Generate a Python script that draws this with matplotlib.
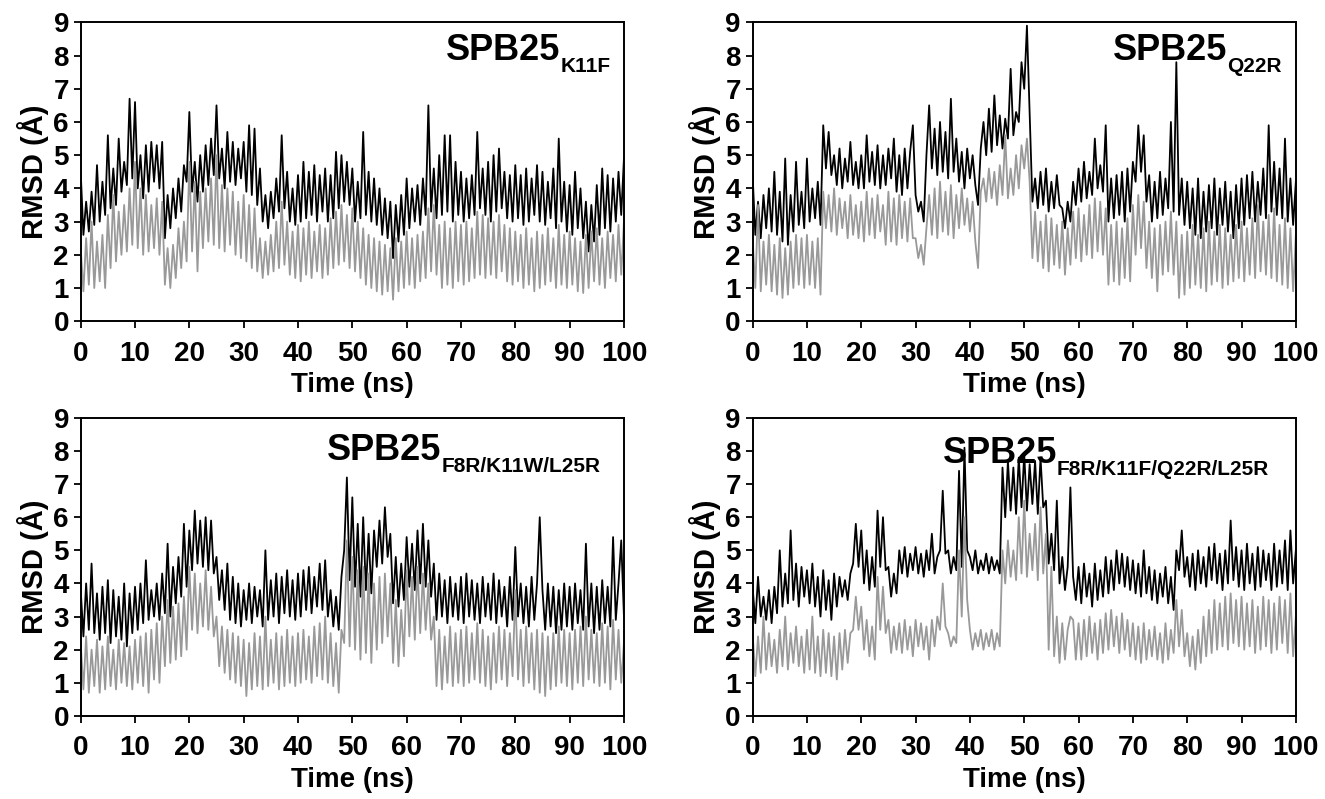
import numpy as np
import matplotlib.pyplot as plt

plt.rcParams['font.family'] = ['Liberation Sans', 'DejaVu Sans']
plt.rcParams['font.weight'] = 'bold'

# RMSD traces, one value every 0.5 ns from 0 to 100 ns
dt = 0.5

k11f_black = [
    4.5, 2.6, 3.6, 2.7, 3.9, 2.9, 4.7, 3.0, 4.2, 3.2, 5.6, 3.4, 4.6, 3.5, 5.5, 3.9, 4.8, 4.1, 6.7, 4.3,
    6.6, 4.0, 5.0, 3.7, 5.3, 3.9, 5.4, 4.2, 5.3, 4.0, 5.4, 2.5, 3.8, 2.8, 4.0, 3.1, 4.3, 3.3, 4.7, 4.2,
    6.3, 3.9, 4.8, 3.6, 5.0, 3.9, 5.3, 4.1, 5.5, 4.4, 6.5, 4.3, 5.2, 4.0, 5.7, 4.2, 5.4, 4.1, 5.2, 4.3,
    5.4, 3.9, 5.9, 3.8, 5.8, 3.5, 4.6, 3.0, 3.8, 2.8, 3.9, 3.1, 4.3, 3.3, 5.6, 3.4, 4.5, 3.0, 4.0, 2.9,
    4.4, 3.0, 4.8, 3.1, 4.5, 3.2, 4.7, 3.0, 4.4, 3.3, 4.6, 3.0, 4.4, 3.1, 5.1, 3.4, 5.0, 3.6, 4.8, 3.5,
    4.6, 3.0, 4.2, 3.1, 5.7, 3.2, 4.5, 3.0, 4.3, 2.9, 4.0, 2.6, 3.7, 2.5, 3.6, 1.9, 3.5, 2.4, 3.8, 2.6,
    4.3, 2.8, 4.0, 3.0, 4.1, 2.9, 4.3, 3.2, 6.5, 3.3, 4.6, 3.1, 5.0, 3.2, 5.6, 3.3, 5.6, 3.0, 4.8, 3.2,
    4.5, 3.0, 4.3, 3.1, 4.4, 3.2, 5.7, 3.4, 4.6, 3.2, 4.8, 3.0, 5.0, 3.3, 5.2, 3.4, 4.5, 3.1, 4.4, 3.0,
    4.7, 3.1, 4.4, 2.9, 4.6, 3.0, 4.3, 3.2, 4.7, 3.0, 4.5, 2.9, 4.2, 3.1, 4.6, 2.8, 5.5, 3.0, 4.2, 2.7,
    4.1, 2.6, 4.5, 2.8, 4.0, 2.5, 3.6, 2.1, 3.5, 2.4, 4.1, 2.6, 4.6, 2.8, 4.4, 2.7, 4.3, 3.0, 4.5, 3.2,
    4.9]
k11f_gray = [
    2.2, 0.9, 2.5, 1.1, 3.0, 1.0, 2.4, 1.2, 2.6, 1.0, 3.2, 1.6, 3.8, 1.8, 3.3, 2.0, 3.5, 2.1, 4.0, 2.3,
    4.8, 2.2, 4.0, 2.0, 3.8, 2.1, 3.5, 2.2, 3.7, 2.0, 3.6, 1.1, 2.2, 1.0, 2.3, 1.3, 2.8, 1.6, 3.0, 1.8,
    4.8, 2.1, 4.2, 1.5, 3.9, 2.2, 4.0, 2.4, 4.3, 2.3, 5.0, 2.2, 4.1, 2.1, 4.0, 2.3, 3.9, 2.0, 3.6, 1.9,
    3.8, 1.8, 3.5, 1.6, 3.4, 1.5, 2.5, 1.3, 2.4, 1.4, 2.6, 1.5, 3.0, 1.6, 3.6, 1.7, 3.0, 1.4, 2.7, 1.3,
    2.9, 1.2, 2.8, 1.4, 3.0, 1.3, 2.7, 1.5, 2.9, 1.3, 2.8, 1.4, 3.1, 1.6, 3.3, 1.7, 3.5, 1.8, 3.2, 1.6,
    3.4, 1.5, 3.0, 1.3, 2.8, 1.1, 2.6, 1.0, 2.5, 0.9, 2.4, 0.8, 2.3, 0.9, 2.2, 0.65, 2.5, 0.9, 2.4, 1.0,
    2.7, 1.1, 2.5, 1.0, 2.6, 1.2, 2.7, 1.3, 3.4, 1.5, 3.5, 1.4, 2.9, 1.0, 3.0, 1.1, 2.8, 1.0, 3.0, 1.2,
    2.9, 1.1, 3.0, 1.2, 2.8, 1.3, 3.3, 1.4, 3.2, 1.3, 3.1, 1.4, 3.0, 1.3, 3.2, 1.5, 2.9, 1.2, 2.8, 1.1,
    2.7, 1.2, 2.6, 1.0, 2.8, 1.1, 2.5, 0.9, 2.7, 1.0, 2.6, 1.1, 2.8, 1.2, 2.5, 1.0, 2.9, 1.1, 2.6, 1.0,
    2.7, 1.1, 2.5, 0.9, 2.4, 0.85, 2.6, 1.0, 2.7, 1.2, 2.8, 1.1, 2.5, 1.0, 2.7, 1.3, 2.6, 1.2, 2.9, 1.4,
    3.0]

q22r_black = [
    4.4, 2.6, 3.6, 2.5, 3.8, 2.8, 4.0, 2.7, 4.5, 2.6, 3.9, 2.4, 4.9, 2.3, 3.8, 2.7, 4.8, 2.9, 3.9, 2.8,
    4.9, 3.0, 4.0, 3.1, 4.2, 2.9, 5.9, 4.6, 5.7, 4.4, 5.0, 4.1, 5.2, 4.0, 4.9, 4.2, 5.4, 4.1, 4.8, 4.0,
    5.0, 4.0, 5.6, 4.2, 5.1, 4.1, 5.3, 4.0, 5.0, 4.1, 5.2, 4.3, 5.5, 3.9, 5.0, 3.8, 5.2, 4.0, 5.1, 5.9,
    3.8, 3.3, 3.6, 3.0, 5.0, 6.5, 4.6, 5.8, 4.4, 6.0, 4.5, 5.7, 4.3, 6.7, 4.5, 5.5, 4.2, 5.1, 4.0, 5.2,
    4.3, 5.0, 4.1, 3.5, 5.2, 6.0, 5.0, 6.4, 5.1, 6.8, 5.3, 6.2, 5.2, 6.1, 5.5, 7.6, 5.6, 6.3, 6.0, 7.8,
    7.0, 8.9, 6.2, 3.6, 4.3, 3.4, 4.5, 3.5, 4.6, 3.3, 4.2, 3.4, 4.4, 3.5, 3.4, 2.8, 3.6, 3.0, 4.2, 3.5,
    4.6, 3.6, 4.8, 3.7, 4.5, 3.8, 5.5, 4.0, 4.7, 3.9, 5.9, 3.0, 4.3, 3.1, 4.4, 3.2, 4.5, 3.0, 4.6, 3.3,
    4.8, 4.2, 5.9, 4.5, 5.6, 3.6, 4.4, 3.0, 4.2, 3.1, 4.5, 3.2, 4.3, 3.4, 6.0, 3.3, 7.8, 3.2, 4.3, 2.9,
    4.2, 2.8, 4.0, 2.6, 4.3, 2.5, 3.9, 2.7, 4.1, 2.8, 4.3, 2.6, 4.0, 2.9, 4.2, 2.7, 3.9, 2.5, 4.1, 2.8,
    4.3, 2.9, 4.4, 3.1, 4.5, 3.0, 4.2, 3.2, 4.6, 3.1, 5.9, 3.3, 4.8, 3.2, 4.6, 3.1, 5.5, 3.0, 4.3, 2.9,
    4.2]
q22r_gray = [
    2.5, 1.0, 3.5, 0.9, 2.4, 1.1, 2.6, 0.9, 2.3, 0.8, 2.5, 0.7, 2.2, 0.8, 2.4, 1.0, 2.6, 1.1, 2.5, 1.0,
    2.6, 1.1, 2.4, 1.0, 2.5, 0.8, 3.9, 2.8, 3.8, 2.7, 4.0, 2.6, 3.7, 2.8, 3.6, 2.5, 3.8, 2.6, 3.5, 2.5,
    3.6, 2.4, 3.9, 2.6, 3.7, 2.5, 3.8, 2.7, 3.5, 2.3, 3.9, 2.4, 3.7, 2.3, 3.8, 2.5, 3.6, 2.4, 3.7, 2.5,
    2.5, 1.9, 2.3, 1.7, 2.8, 3.8, 2.6, 4.0, 2.5, 4.2, 2.7, 3.9, 2.6, 4.1, 2.5, 3.8, 2.8, 4.0, 2.9, 3.7,
    2.7, 3.6, 2.4, 1.6, 3.9, 4.3, 3.6, 4.6, 3.7, 4.5, 3.5, 4.7, 3.8, 5.6, 3.7, 4.6, 3.8, 5.0, 4.0, 5.3,
    4.6, 5.5, 4.2, 1.9, 3.3, 1.8, 3.0, 1.6, 3.2, 1.5, 3.1, 1.7, 2.9, 1.6, 3.0, 1.4, 2.8, 1.7, 3.3, 1.9,
    3.4, 1.8, 3.2, 2.0, 3.5, 1.9, 3.7, 2.1, 3.6, 2.0, 3.4, 1.1, 2.9, 1.2, 3.0, 1.1, 2.8, 1.3, 3.1, 1.2,
    3.5, 2.0, 3.8, 2.2, 3.6, 1.6, 3.0, 1.3, 2.8, 0.9, 2.9, 1.4, 3.0, 1.5, 3.3, 1.4, 3.0, 0.7, 2.6, 0.8,
    2.7, 1.0, 2.9, 1.1, 2.6, 1.0, 2.8, 0.9, 3.0, 1.1, 2.7, 1.2, 2.9, 1.0, 2.8, 1.1, 2.6, 1.2, 2.9, 1.3,
    3.0, 1.2, 2.8, 1.4, 3.1, 1.3, 3.5, 1.5, 3.0, 1.4, 3.2, 1.3, 3.4, 1.2, 2.9, 1.1, 3.1, 1.0, 2.8, 0.9,
    2.6]

f8r_k11w_l25r_black = [
    3.8, 2.4, 4.0, 2.6, 4.6, 2.5, 3.7, 2.3, 3.9, 2.5, 4.1, 2.2, 3.8, 2.4, 3.6, 2.3, 4.0, 2.1, 3.7, 2.5,
    3.9, 2.6, 4.0, 2.8, 4.7, 2.9, 3.8, 3.0, 4.0, 2.9, 4.3, 3.1, 5.2, 3.0, 4.5, 3.4, 4.8, 3.6, 5.8, 3.9,
    5.6, 4.4, 6.2, 4.6, 5.9, 4.5, 6.0, 4.4, 5.9, 4.3, 4.8, 3.5, 4.4, 3.2, 4.6, 2.9, 4.2, 2.8, 4.0, 2.7,
    3.8, 2.9, 4.0, 2.8, 3.9, 3.0, 3.8, 2.7, 5.0, 2.9, 4.1, 3.0, 4.3, 2.8, 4.2, 3.1, 4.4, 3.0, 4.1, 2.9,
    4.3, 3.0, 4.4, 3.2, 4.5, 3.1, 4.2, 3.3, 4.6, 3.2, 4.7, 3.0, 3.8, 2.7, 3.6, 2.6, 4.2, 5.0, 7.2, 4.1,
    6.6, 3.9, 5.8, 3.6, 6.0, 3.8, 5.5, 3.7, 5.6, 4.5, 5.9, 4.6, 6.3, 4.8, 5.5, 3.4, 4.8, 3.3, 4.6, 3.5,
    5.4, 3.9, 5.2, 3.8, 5.6, 4.0, 5.8, 3.9, 5.3, 3.6, 4.6, 2.9, 4.3, 3.0, 4.1, 2.8, 4.2, 3.0, 4.0, 2.9,
    4.2, 2.8, 4.3, 3.0, 4.1, 2.9, 4.0, 2.8, 4.2, 3.0, 4.0, 2.9, 4.3, 2.8, 4.1, 3.0, 3.9, 2.7, 4.2, 2.9,
    5.1, 3.0, 4.0, 2.8, 3.9, 2.7, 4.2, 2.9, 4.0, 6.0, 3.8, 2.6, 4.0, 2.7, 3.9, 2.5, 3.8, 2.6, 4.0, 2.7,
    3.9, 2.6, 4.0, 2.8, 3.8, 2.6, 5.2, 2.7, 4.0, 2.5, 3.9, 2.6, 4.1, 2.8, 3.9, 2.7, 5.4, 2.9, 4.0, 5.3,
    3.0]
f8r_k11w_l25r_gray = [
    2.2, 0.8, 2.4, 0.7, 2.0, 0.9, 2.3, 0.7, 2.1, 0.8, 2.4, 0.9, 2.0, 0.8, 2.3, 1.0, 2.2, 0.9, 2.1, 0.8,
    2.3, 1.0, 2.4, 0.9, 2.5, 0.7, 2.6, 1.1, 2.8, 1.0, 3.0, 1.5, 3.5, 1.6, 3.3, 1.7, 3.4, 1.8, 3.6, 2.0,
    4.5, 2.6, 4.3, 2.5, 4.0, 2.7, 4.4, 2.6, 3.9, 2.4, 3.0, 1.5, 2.7, 1.3, 2.6, 1.1, 2.5, 1.0, 2.4, 0.9,
    2.3, 0.6, 2.2, 0.8, 2.5, 0.9, 2.4, 0.8, 3.0, 0.9, 2.3, 1.0, 2.5, 0.8, 2.4, 0.9, 2.6, 1.0, 2.4, 0.9,
    2.5, 1.0, 2.6, 1.1, 2.4, 1.0, 2.7, 1.2, 2.8, 1.1, 3.0, 1.0, 2.5, 0.9, 2.2, 0.7, 2.6, 2.2, 5.3, 2.1,
    4.8, 2.0, 4.4, 1.7, 4.5, 1.9, 4.3, 1.6, 4.0, 2.0, 4.2, 2.2, 4.3, 2.4, 4.0, 1.6, 3.5, 1.5, 3.2, 1.8,
    4.4, 2.4, 4.2, 2.3, 4.5, 2.5, 4.3, 2.6, 4.0, 2.3, 3.0, 0.9, 2.6, 0.8, 2.4, 1.0, 2.7, 0.9, 2.5, 1.0,
    2.6, 0.9, 2.7, 1.0, 2.5, 1.1, 2.8, 1.0, 2.6, 0.9, 2.4, 0.8, 2.5, 1.0, 2.7, 1.1, 2.6, 0.9, 2.5, 1.2,
    3.8, 1.1, 2.6, 0.9, 2.7, 1.0, 2.5, 0.8, 2.6, 0.7, 2.5, 0.6, 2.4, 0.8, 2.5, 0.9, 2.7, 1.0, 2.6, 0.9,
    2.5, 0.8, 2.6, 1.0, 2.7, 0.9, 3.0, 1.1, 2.6, 1.0, 2.5, 0.9, 2.8, 1.0, 2.7, 0.8, 2.9, 1.1, 2.6, 1.0,
    2.2]

f8r_k11f_q22r_l25r_black = [
    3.9, 2.8, 4.2, 3.0, 3.6, 2.9, 3.8, 2.8, 3.9, 3.1, 5.0, 3.3, 4.3, 3.4, 5.6, 3.5, 4.6, 3.3, 4.5, 3.6,
    4.4, 3.4, 4.6, 3.3, 4.2, 3.0, 4.4, 3.2, 4.1, 2.9, 4.3, 3.3, 4.2, 3.6, 4.1, 3.5, 4.3, 4.6, 5.8, 4.5,
    5.6, 4.0, 5.0, 3.8, 4.8, 3.9, 6.2, 4.5, 6.0, 4.4, 4.5, 3.6, 4.3, 3.7, 5.0, 4.3, 5.1, 4.2, 4.9, 4.4,
    5.1, 4.3, 4.9, 4.2, 5.0, 4.4, 5.5, 4.3, 4.8, 5.0, 6.8, 4.9, 5.0, 4.3, 4.8, 4.4, 7.4, 4.5, 8.1, 5.0,
    4.8, 4.4, 5.0, 4.3, 4.7, 4.4, 4.9, 4.3, 4.8, 4.4, 4.7, 4.3, 7.5, 6.0, 7.7, 6.2, 7.5, 6.1, 7.8, 6.3,
    7.9, 6.2, 7.6, 6.4, 7.7, 6.1, 7.8, 6.3, 6.5, 4.6, 5.5, 4.4, 6.5, 4.0, 4.8, 3.8, 4.5, 6.9, 4.2, 3.5,
    4.5, 3.4, 4.6, 3.6, 4.3, 3.3, 4.6, 3.5, 4.4, 3.6, 4.8, 3.7, 4.7, 3.8, 5.0, 4.0, 4.9, 3.9, 4.8, 3.8,
    4.7, 3.7, 4.6, 3.6, 5.0, 3.7, 4.5, 3.5, 4.4, 3.4, 4.3, 3.6, 4.5, 3.4, 4.2, 3.2, 5.0, 4.4, 5.6, 4.2,
    4.8, 3.9, 4.9, 3.8, 5.0, 4.0, 4.8, 3.9, 5.1, 4.1, 5.2, 4.0, 4.9, 3.8, 5.0, 4.0, 5.9, 4.1, 5.1, 3.9,
    5.0, 3.8, 5.2, 4.0, 4.9, 3.8, 5.1, 3.9, 5.0, 4.1, 4.9, 3.8, 5.2, 3.9, 5.0, 4.0, 5.3, 3.8, 5.6, 4.0,
    5.0]
f8r_k11f_q22r_l25r_gray = [
    2.5, 1.2, 2.4, 1.3, 3.0, 1.4, 2.5, 1.5, 2.3, 1.3, 2.6, 1.5, 3.0, 1.4, 2.5, 1.6, 2.7, 1.5, 2.4, 1.3,
    2.6, 1.4, 3.0, 1.3, 2.4, 1.2, 2.6, 1.3, 2.5, 1.2, 2.4, 1.1, 2.5, 1.4, 2.6, 1.6, 2.5, 2.6, 3.6, 2.6,
    3.3, 2.0, 2.9, 1.8, 2.7, 1.7, 4.2, 2.6, 3.9, 2.5, 2.9, 1.9, 2.7, 2.0, 2.8, 1.9, 2.9, 2.0, 2.7, 1.8,
    2.9, 2.1, 2.8, 2.0, 2.7, 1.7, 2.9, 2.1, 3.0, 2.6, 4.0, 2.7, 2.5, 2.1, 2.4, 2.2, 5.0, 3.0, 6.0, 3.5,
    2.6, 2.0, 2.5, 2.1, 2.6, 2.0, 2.5, 2.1, 2.6, 2.0, 2.5, 2.1, 5.0, 4.0, 5.3, 4.2, 5.0, 4.1, 6.0, 4.3,
    6.5, 4.2, 5.5, 4.4, 5.8, 4.1, 6.3, 4.3, 5.5, 2.0, 4.5, 1.8, 3.0, 1.6, 2.8, 1.7, 2.6, 3.0, 2.9, 1.7,
    2.8, 1.7, 2.9, 1.8, 3.0, 1.9, 2.8, 1.7, 2.9, 1.9, 3.1, 2.0, 3.2, 2.1, 3.0, 1.9, 3.1, 2.0, 2.9, 1.8,
    2.8, 1.7, 2.7, 1.6, 2.8, 1.7, 2.6, 1.8, 2.7, 1.7, 2.5, 1.6, 2.8, 1.7, 2.6, 1.9, 3.5, 2.1, 3.2, 1.8,
    2.5, 1.5, 2.4, 1.4, 2.6, 1.6, 3.0, 1.8, 3.2, 1.9, 3.5, 2.0, 3.4, 2.1, 3.6, 2.0, 3.7, 2.2, 3.5, 2.1,
    3.6, 2.0, 3.4, 2.1, 3.5, 1.9, 3.3, 2.0, 3.6, 2.1, 3.5, 1.9, 3.4, 2.0, 3.6, 2.2, 3.5, 1.9, 3.7, 1.8,
    3.0]

labels = ['K11F', 'Q22R', 'F8R/K11W/L25R', 'F8R/K11F/Q22R/L25R']
series = [
    (k11f_black, k11f_gray),
    (q22r_black, q22r_gray),
    (f8r_k11w_l25r_black, f8r_k11w_l25r_gray),
    (f8r_k11f_q22r_l25r_black, f8r_k11f_q22r_l25r_gray),
]

# axes boxes [left, bottom, width, height] in figure fraction
boxes = [
    [0.0609, 0.598, 0.410, 0.374],
    [0.568, 0.598, 0.410, 0.374],
    [0.0609, 0.104, 0.410, 0.373],
    [0.568, 0.104, 0.410, 0.373],
]
# where "SPB25" starts in each panel (axes fraction)
title_pos = [(0.672, 0.873), (0.663, 0.873), (0.453, 0.859), (0.350, 0.849)]

fig = plt.figure(figsize=(13.25, 7.99), dpi=100)

for box, (black, gray), sub, (tx, ty) in zip(boxes, series, labels, title_pos):
    ax = fig.add_axes(box)
    t_black = np.arange(len(black)) * dt
    t_gray = np.arange(len(gray)) * dt
    ax.plot(t_black, black, color='black', lw=1.3)
    ax.plot(t_gray, gray, color='#999999', lw=1.3)

    ax.set_xlim(0, 100)
    ax.set_ylim(0, 9)
    ax.set_xticks(range(0, 101, 10))
    ax.set_yticks(range(0, 10))
    ax.tick_params(direction='out', length=5, width=1.3, labelsize=20)
    ax.tick_params(axis='x', pad=9)
    for s in ax.spines.values():
        s.set_linewidth(1.4)
    ax.set_xlabel('Time (ns)', fontsize=20, fontweight='bold', labelpad=4)
    ax.set_ylabel('RMSD (Å)', fontsize=21, fontweight='bold', labelpad=3)

    txt = ax.text(tx, ty, 'SPB25', transform=ax.transAxes, fontsize=26,
                  fontweight='bold', va='baseline', ha='left')
    ax.annotate(sub, xy=(1, 0), xycoords=txt, xytext=(0, -3),
                textcoords='offset points', fontsize=15, fontweight='bold',
                va='baseline', ha='left')

fig.savefig('out.png', dpi=100)
